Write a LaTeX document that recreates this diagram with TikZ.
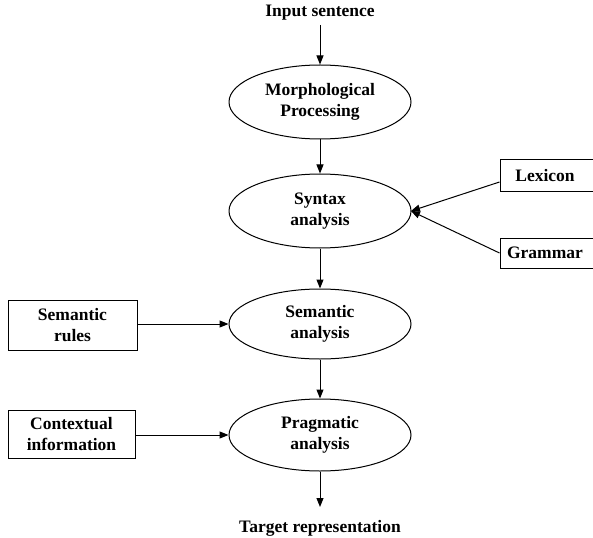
\documentclass[tikz,border=0pt]{standalone}
\usepackage{fontspec}
\setmainfont{Liberation Serif}
\usetikzlibrary{shapes.geometric,arrows.meta}
\begin{document}
\begin{tikzpicture}[x=1pt,y=-1pt,
  every node/.style={font=\fontsize{17.5}{21}\selectfont\bfseries, align=center},
  proc/.style={ellipse, draw, line width=1pt, minimum width=182pt, minimum height=74pt, inner sep=0pt},
  src/.style={rectangle, draw, line width=1pt, inner sep=0pt},
  lbl/.style={inner sep=0pt},
  arr/.style={-{Triangle[length=9pt,width=7pt]}, line width=1pt}
]
\useasboundingbox (0,0) rectangle (593,537);
\node[lbl] (input) at (320,13) {Input sentence};
\node[proc] (morph) at (320,102) {Morphological\\Processing};
\node[proc] (syntax) at (320,211) {Syntax\\analysis};
\node[proc, minimum height=70pt] (sem) at (320,324) {Semantic\\analysis};
\node[proc, minimum height=72pt] (prag) at (320,435) {Pragmatic\\analysis};
\node[lbl] (target) at (320,528) {Target representation};
\node[src, minimum width=98pt, minimum height=32pt] (lex) at (549,176) {\hspace*{-8pt}Lexicon};
\node[src, minimum width=98pt, minimum height=30pt] (gram) at (549,253) {\hspace*{-8pt}Grammar};
\node[src, minimum width=129pt, minimum height=50pt] (semr) at (72.5,325) {Semantic\\rules};
\node[src, minimum width=127pt, minimum height=48pt] (ctx) at (71.5,434) {Contextual\\information};
\coordinate (join) at (411,211);
\draw[arr] (morph.north |- 0,25) -- (morph.north);
\draw[arr] (morph.south) -- (syntax.north);
\draw[arr] (syntax.south) -- (sem.north);
\draw[arr] (sem.south) -- (prag.north);
\draw[arr] (prag.south) -- (prag.south |- 0,507);
\draw[arr] (lex.west |- 0,182) -- (join);
\draw[arr] (gram.west |- 0,253) -- (join);
\draw[arr] (semr.east |- sem.west) -- (sem.west);
\draw[arr] (ctx.east |- prag.west) -- (prag.west);
\end{tikzpicture}
\end{document}
